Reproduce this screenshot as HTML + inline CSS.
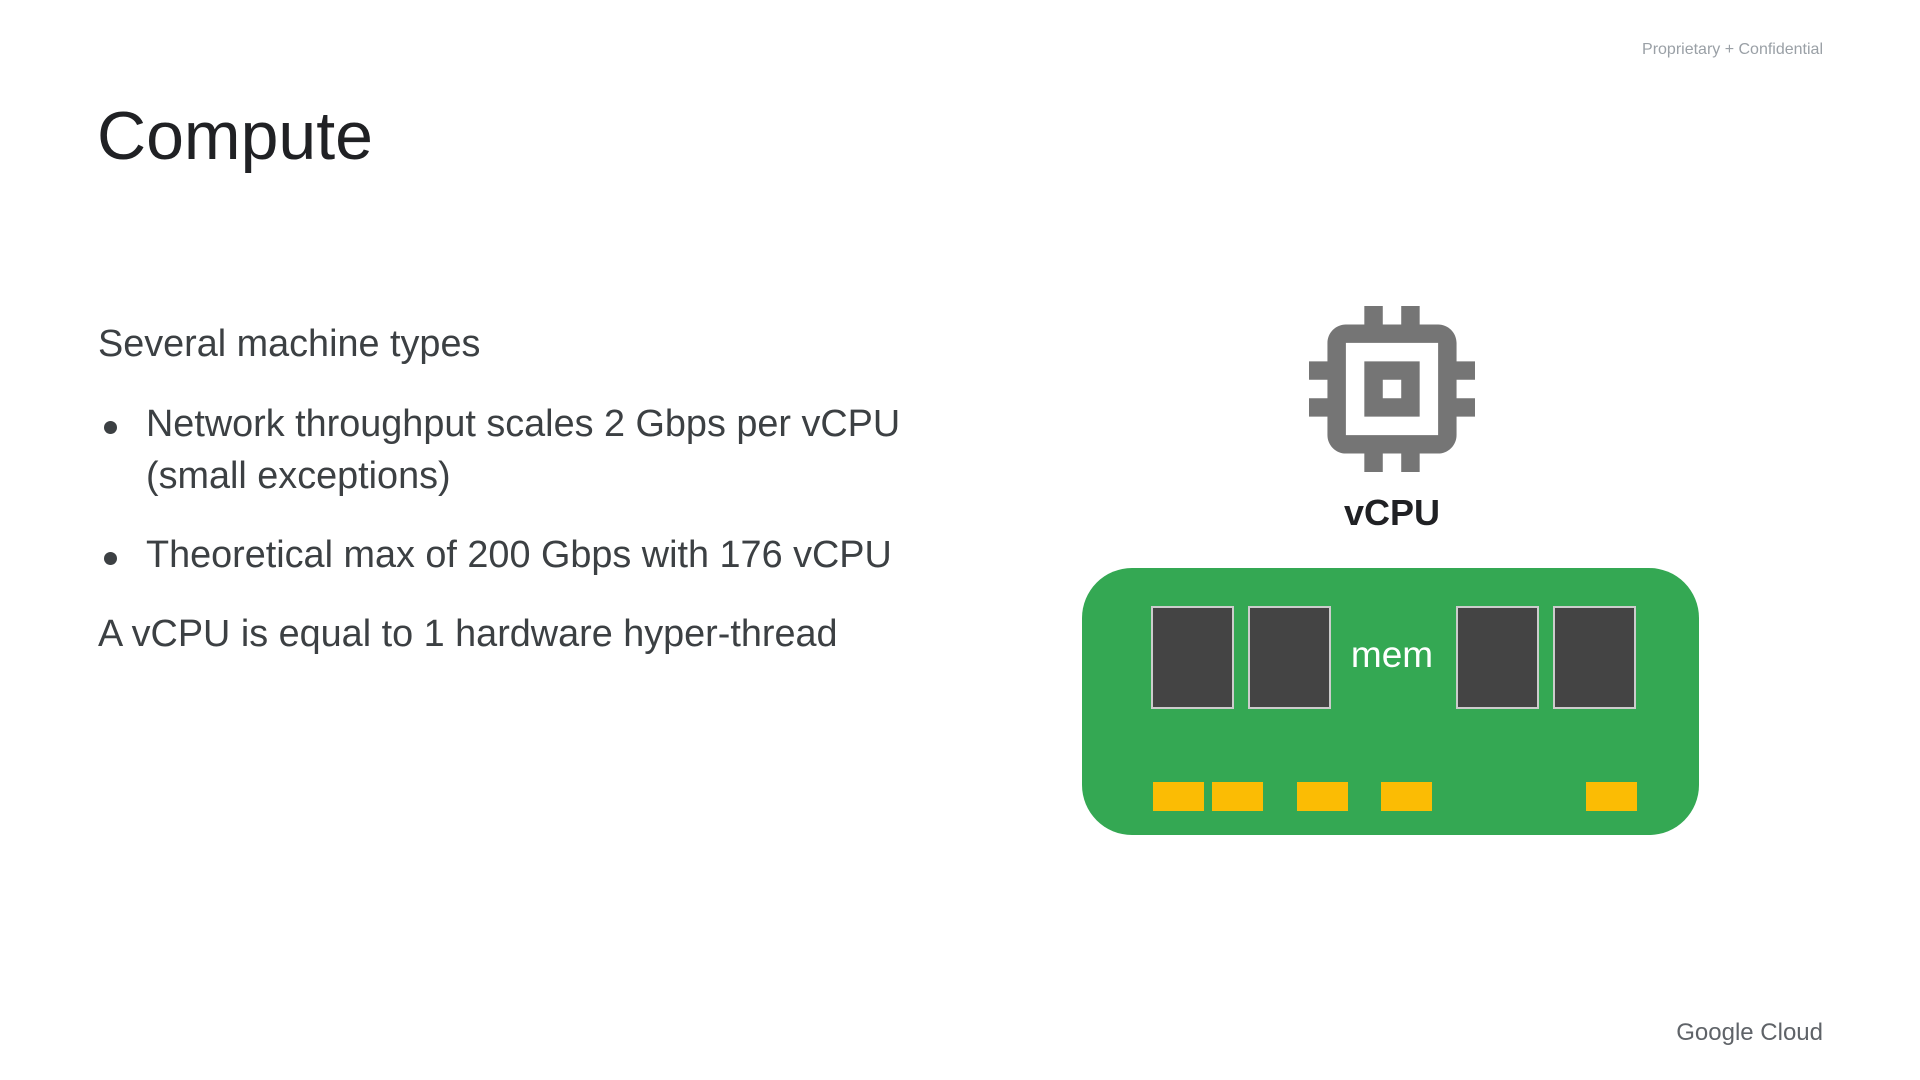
<!DOCTYPE html>
<html><head><meta charset="utf-8"><style>
body{margin:0;width:1920px;height:1080px;background:#fff;position:relative;overflow:hidden;font-family:"Liberation Sans",sans-serif;color:#202124}
.a{position:absolute;white-space:nowrap}
.chip{position:absolute;top:606px;width:79px;height:99px;background:#444;border:2px solid #ccc;box-sizing:content-box}
.pad{position:absolute;top:782px;width:51px;height:29px;background:#fbbc04}
.t{font-size:37.8px;color:#3c4043}
.dot{position:absolute;width:13px;height:13px;border-radius:50%;background:#3c4043}
</style></head><body>
<div class="a" style="right:97px;top:41px;font-size:16px;color:#9aa0a6">Proprietary + Confidential</div>
<div class="a" style="left:97px;top:97px;font-size:68px;color:#202124">Compute</div>
<div class="a t" style="left:98px;top:323px">Several machine types</div>
<div class="dot" style="left:104px;top:421px"></div>
<div class="a t" style="left:146px;top:403px">Network throughput scales 2 Gbps per vCPU</div>
<div class="a t" style="left:146px;top:455px">(small exceptions)</div>
<div class="dot" style="left:104px;top:552px"></div>
<div class="a t" style="left:146px;top:534px">Theoretical max of 200 Gbps with 176 vCPU</div>
<div class="a t" style="left:98px;top:613px">A vCPU is equal to 1 hardware hyper-thread</div>
<svg class="a" style="left:1309px;top:306px" width="166" height="166" viewBox="3 3 18 18"><path fill="#757575" d="M15 9H9v6h6V9zm-2 4h-2v-2h2v2zm8-2V9h-2V7c0-1.1-.9-2-2-2h-2V3h-2v2h-2V3H9v2H7c-1.1 0-2 .9-2 2v2H3v2h2v2H3v2h2v2c0 1.1.9 2 2 2h2v2h2v-2h2v2h2v-2h2c1.1 0 2-.9 2-2v-2h2v-2h-2v-2h2zm-4 6H7V7h10v10z"/></svg>
<div class="a" style="left:1292px;width:200px;text-align:center;top:492px;font-size:36px;font-weight:bold;color:#202124">vCPU</div>
<div class="a" style="left:1082px;top:568px;width:617px;height:267px;background:#34a853;border-radius:50px"></div>
<div class="chip" style="left:1151px"></div>
<div class="chip" style="left:1248px"></div>
<div class="chip" style="left:1456px"></div>
<div class="chip" style="left:1553px"></div>
<div class="a" style="left:1292px;width:200px;text-align:center;top:634px;font-size:37px;color:#fff">mem</div>
<div class="pad" style="left:1153px"></div>
<div class="pad" style="left:1212px"></div>
<div class="pad" style="left:1297px"></div>
<div class="pad" style="left:1381px"></div>
<div class="pad" style="left:1586px"></div>
<div class="a" style="right:97px;top:1019px;font-size:24px;color:#5f6368">Google Cloud</div>
</body></html>
